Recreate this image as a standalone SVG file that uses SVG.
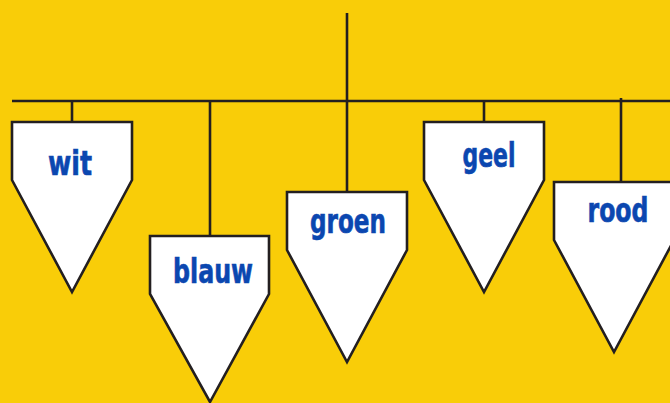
<svg xmlns="http://www.w3.org/2000/svg" width="670" height="403" viewBox="0 0 670 403">
<style>
.ln{stroke:#231f20;stroke-width:2.6;fill:none}
.nd{fill:#ffffff;stroke:#231f20;stroke-width:2.6;stroke-linejoin:miter}
.lb{font-family:"Liberation Sans Narrow","DejaVu Sans Condensed","Liberation Sans",sans-serif;font-weight:bold;font-size:33px;fill:#0b47b0;stroke:#0b47b0;stroke-width:0.6;text-anchor:middle}
</style>
<rect width="670" height="403" fill="#f9cd08"/>
<g id="connectors">
<line class="ln" x1="347" y1="13" x2="347" y2="192"/>
<line class="ln" x1="12" y1="101" x2="670" y2="101"/>
<line class="ln" x1="72" y1="101" x2="72" y2="122"/>
<line class="ln" x1="210" y1="101" x2="210" y2="236"/>
<line class="ln" x1="484" y1="101" x2="484" y2="122"/>
<line class="ln" x1="621" y1="98" x2="621" y2="182"/>
</g>
<g id="wit">
<path class="nd" d="M12,122 H132 V180 L72,292 L12,180 Z"/>
<text class="lb" x="70" y="175" textLength="44" lengthAdjust="spacingAndGlyphs">wit</text>
</g>
<g id="blauw">
<path class="nd" d="M150,236 H269 V294 L210,402 L150,294 Z"/>
<text class="lb" x="213" y="283" textLength="80" lengthAdjust="spacingAndGlyphs">blauw</text>
</g>
<g id="groen">
<path class="nd" d="M287,192 H407 V250 L347,362 L287,250 Z"/>
<text class="lb" x="348" y="233" textLength="76" lengthAdjust="spacingAndGlyphs">groen</text>
</g>
<g id="geel">
<path class="nd" d="M424,122 H544 V180 L484,292 L424,180 Z"/>
<text class="lb" x="489" y="167" textLength="53" lengthAdjust="spacingAndGlyphs">geel</text>
</g>
<g id="rood">
<path class="nd" d="M554,182 H674 V240 L614,352 L554,240 Z"/>
<text class="lb" x="618" y="222" textLength="61" lengthAdjust="spacingAndGlyphs">rood</text>
</g>
</svg>
